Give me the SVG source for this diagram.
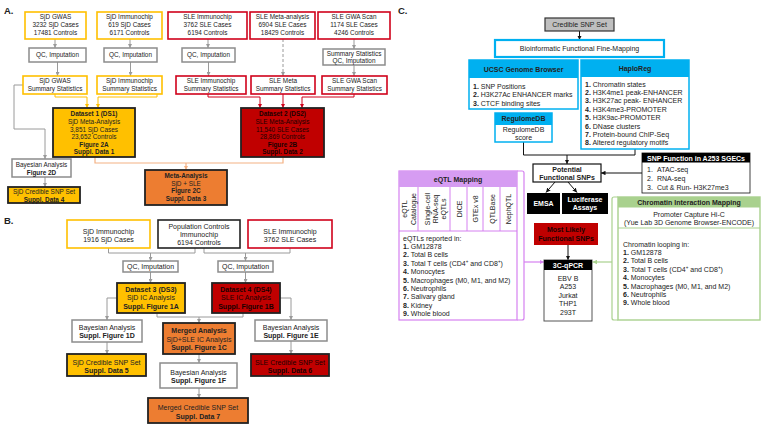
<svg xmlns="http://www.w3.org/2000/svg" width="763" height="425" viewBox="0 0 763 425">
<style>
text{font-family:"Liberation Sans",Arial,sans-serif;fill:#222;text-anchor:middle}
.a{font-size:6.4px}
.b{font-size:7px}
.c{font-size:7px}
.l{text-anchor:start}
.bd{font-weight:bold}
.w{fill:#fff}
.dk{fill:#1a0000}
.lbl{font-size:9.5px;font-weight:bold;text-anchor:start}
.sjd{fill:#fff;stroke:#FFC000;stroke-width:1.6}
.sle{fill:#fff;stroke:#D0021B;stroke-width:1.6}
.blk{fill:#fff;stroke:#222;stroke-width:1.6}
.qc{fill:#fff;stroke:#8C8C8C;stroke-width:1.5}
.y{fill:#FFC000;stroke:#222;stroke-width:1.8}
.r{fill:#C00000;stroke:#222;stroke-width:1.8}
.o{fill:#ED7D31;stroke:#222;stroke-width:1.8}
.gl{fill:none;stroke:#9A9A9A;stroke-width:1}
.yl{fill:none;stroke:#FFC000;stroke-width:1}
.rl{fill:none;stroke:#D0021B;stroke-width:1}
.ol{fill:none;stroke:#F4B183;stroke-width:1.2}
.kl{fill:none;stroke:#111;stroke-width:1}
.pl{fill:none;stroke:#D580F0;stroke-width:1.2}
.nl{fill:none;stroke:#A9D18E;stroke-width:1.2}
.blue{fill:#fff;stroke:#00B0F0;stroke-width:1.5}
</style>
<defs>
<marker id="mg" viewBox="0 0 6 6" refX="6" refY="3" markerWidth="4" markerHeight="4" markerUnits="userSpaceOnUse" orient="auto"><path d="M0,0L6,3L0,6z" fill="#9A9A9A"/></marker>
<marker id="my" viewBox="0 0 6 6" refX="6" refY="3" markerWidth="4" markerHeight="4" markerUnits="userSpaceOnUse" orient="auto"><path d="M0,0L6,3L0,6z" fill="#FFC000"/></marker>
<marker id="mr" viewBox="0 0 6 6" refX="6" refY="3" markerWidth="4" markerHeight="4" markerUnits="userSpaceOnUse" orient="auto"><path d="M0,0L6,3L0,6z" fill="#D0021B"/></marker>
<marker id="mo" viewBox="0 0 6 6" refX="6" refY="3" markerWidth="4.5" markerHeight="4.5" markerUnits="userSpaceOnUse" orient="auto"><path d="M0,0L6,3L0,6z" fill="#F4B183"/></marker>
<marker id="mk" viewBox="0 0 6 6" refX="6" refY="3" markerWidth="4.5" markerHeight="4.5" markerUnits="userSpaceOnUse" orient="auto"><path d="M0,0L6,3L0,6z" fill="#111"/></marker>
<marker id="mp" viewBox="0 0 6 6" refX="6" refY="3" markerWidth="4.5" markerHeight="4.5" markerUnits="userSpaceOnUse" orient="auto"><path d="M0,0L6,3L0,6z" fill="#D580F0"/></marker>
<marker id="mn" viewBox="0 0 6 6" refX="6" refY="3" markerWidth="4.5" markerHeight="4.5" markerUnits="userSpaceOnUse" orient="auto"><path d="M0,0L6,3L0,6z" fill="#A9D18E"/></marker>
</defs>
<rect width="763" height="425" fill="#fff"/>

<text class="lbl" x="4" y="14">A.</text>
<text class="lbl" x="4" y="224">B.</text>
<text class="lbl" x="398" y="14">C.</text>

<g id="connectors">
<path class="gl" d="M55 39V48" marker-end="url(#mg)"/>
<path class="gl" d="M130 39V48" marker-end="url(#mg)"/>
<path class="gl" d="M208 39V48" marker-end="url(#mg)"/>
<path class="gl" d="M354 39V49" marker-end="url(#mg)"/>
<path class="gl" d="M57.5 62V76" marker-end="url(#mg)"/>
<path class="gl" d="M130.5 62V76" marker-end="url(#mg)"/>
<path class="gl" d="M208.5 62V76" marker-end="url(#mg)"/>
<path class="gl" d="M354 65V76" marker-end="url(#mg)"/>
<path class="gl" d="M283 39V76" stroke-dasharray="3,2" marker-end="url(#mg)"/>
<path class="yl" d="M55 94V97H87V108" marker-end="url(#my)"/>
<path class="yl" d="M157 94V97H98V108" marker-end="url(#my)"/>
<path class="rl" d="M208 94V97H260V108" marker-end="url(#mr)"/>
<path class="rl" d="M283 94V108" marker-end="url(#mr)"/>
<path class="rl" d="M354 94V97H302V108" marker-end="url(#mr)"/>
<path class="gl" d="M23 85H14V129H45V159" marker-end="url(#mg)"/>
<path class="gl" d="M45 177V187" marker-end="url(#mg)"/>
<path class="ol" d="M95 157V163H283V157"/>
<path class="ol" d="M186 163V170" marker-end="url(#mo)"/>
<path class="gl" d="M108.5 248V253H195V248"/>
<path class="gl" d="M150.5 253V261" marker-end="url(#mg)"/>
<path class="gl" d="M204 248V253H290V248"/>
<path class="gl" d="M245.5 253V261" marker-end="url(#mg)"/>
<path class="gl" d="M150.5 272V283" marker-end="url(#mg)"/>
<path class="gl" d="M245.5 272V283" marker-end="url(#mg)"/>
<path class="gl" d="M117 298H107V320" marker-end="url(#mg)"/>
<path class="gl" d="M280 298H291V320" marker-end="url(#mg)"/>
<path class="gl" d="M157 313V317H243V313"/>
<path class="gl" d="M199 317V323" marker-end="url(#mg)"/>
<path class="gl" d="M107 342V354" marker-end="url(#mg)"/>
<path class="gl" d="M291 341V354" marker-end="url(#mg)"/>
<path class="gl" d="M199 354V363" marker-end="url(#mg)"/>
<path class="gl" d="M199 388V398" marker-end="url(#mg)"/>
<path class="kl" d="M579.5 31V40" marker-end="url(#mk)"/>
<path class="kl" d="M523.5 142V155H635V149"/>
<path class="kl" d="M567 155V164" marker-end="url(#mk)"/>
<path class="kl" d="M642 173H601" marker-end="url(#mk)"/>
<path class="kl" d="M555 182L546 192.5" marker-end="url(#mk)"/>
<path class="kl" d="M568 182L577 192.5" marker-end="url(#mk)"/>
<path class="kl" d="M568 245V260" marker-end="url(#mk)"/>
<path class="pl" d="M517 171H522Q524 171 524 173V318Q524 320 522 320H517"/>
<path class="pl" d="M524 262H544" marker-end="url(#mp)"/>
<path class="nl" d="M618 197H614Q612 197 612 199V318Q612 320 614 320H618"/>
<path class="nl" d="M612 262H592.5" marker-end="url(#mn)"/>
</g>

<g id="a-sjd-gwas"><rect class="sjd" x="25" y="12" width="61" height="27"/><text class="a" x="55.5" y="19.3">SjD GWAS</text><text class="a" x="55.5" y="27.3">3232 SjD Cases</text><text class="a" x="55.5" y="35.3">17481 Controls</text></g>
<g id="a-sjd-ic"><rect class="sjd" x="97" y="12" width="65" height="27"/><text class="a" x="129.5" y="19.3">SjD Immunochip</text><text class="a" x="129.5" y="27.3">619 SjD Cases</text><text class="a" x="129.5" y="35.3">6171 Controls</text></g>
<g id="a-sle-ic"><rect class="sle" x="168" y="12" width="79" height="27"/><text class="a" x="207.5" y="19.3">SLE Immunochip</text><text class="a" x="207.5" y="27.3">3762 SLE Cases</text><text class="a" x="207.5" y="35.3">6194 Controls</text></g>
<g id="a-sle-meta"><rect class="sle" x="250" y="12" width="65" height="27"/><text class="a" x="282.5" y="19.3">SLE Meta-analysis</text><text class="a" x="282.5" y="27.3">6904 SLE Cases</text><text class="a" x="282.5" y="35.3">18429 Controls</text></g>
<g id="a-sle-gwa"><rect class="sle" x="318" y="12" width="72" height="27"/><text class="a" x="354" y="19.3">SLE GWA Scan</text><text class="a" x="354" y="27.3">1174 SLE Cases</text><text class="a" x="354" y="35.3">4246 Controls</text></g>

<g id="a-qc1"><rect class="qc" x="29" y="48" width="57" height="14"/><text class="a" x="57.5" y="57.3">QC, Imputation</text></g>
<g id="a-qc2"><rect class="qc" x="104" y="48" width="53" height="14"/><text class="a" x="130.5" y="57.3">QC, Imputation</text></g>
<g id="a-qc3"><rect class="qc" x="182" y="48" width="53" height="14"/><text class="a" x="208.5" y="57.3">QC, Imputation</text></g>
<g id="a-qc4"><rect class="qc" x="323" y="49" width="62" height="16"/><text class="a" x="354" y="55.7">Summary Statistics</text><text class="a" x="354" y="62.7">QC, Imputation</text></g>

<g id="a-sum1"><rect class="sjd" x="23" y="76" width="64" height="18"/><text class="a" x="55" y="83.2">SjD GWAS</text><text class="a" x="55" y="91.2">Summary Statistics</text></g>
<g id="a-sum2"><rect class="sjd" x="97" y="76" width="65" height="18"/><text class="a" x="129.5" y="83.2">SjD Immunochip</text><text class="a" x="129.5" y="91.2">Summary Statistics</text></g>
<g id="a-sum3"><rect class="sle" x="176" y="76" width="70" height="18"/><text class="a" x="211" y="83.2">SLE Immunochip</text><text class="a" x="211" y="91.2">Summary Statistics</text></g>
<g id="a-sum4"><rect class="sle" x="251" y="76" width="64" height="18"/><text class="a" x="283" y="83.2">SLE Meta</text><text class="a" x="283" y="91.2">Summary Statistics</text></g>
<g id="a-sum5"><rect class="sle" x="322" y="76" width="65" height="18"/><text class="a" x="354.5" y="83.2">SLE GWA Scan</text><text class="a" x="354.5" y="91.2">Summary Statistics</text></g>

<g id="a-ds1"><rect class="y" x="53" y="108" width="82" height="49"/><text class="a bd" x="94" y="116.3">Dataset 1 (DS1)</text><text class="a" x="94" y="124.2">SjD Meta-Analysis</text><text class="a" x="94" y="131.5">3,851 SjD Cases</text><text class="a" x="94" y="139.2">23,652 Controls</text><text class="a bd" x="94" y="146.5">Figure 2A</text><text class="a bd" x="94" y="154.2">Suppl. Data 1</text></g>
<g id="a-ds2"><rect class="r" x="241" y="108" width="83" height="49"/><text class="a bd dk" x="282.5" y="116.3">Dataset 2 (DS2)</text><text class="a dk" x="282.5" y="124.2">SLE Meta-Analysis</text><text class="a dk" x="282.5" y="131.5">11,540 SLE Cases</text><text class="a dk" x="282.5" y="139.2">28,869 Controls</text><text class="a bd dk" x="282.5" y="146.5">Figure 2B</text><text class="a bd dk" x="282.5" y="154.2">Suppl. Data 2</text></g>
<g id="a-bayes"><rect class="qc" x="12" y="159" width="59" height="18"/><text class="a" x="41.5" y="167.2">Bayesian Analysis</text><text class="a bd" x="41.5" y="174.5">Figure 2D</text></g>
<g id="a-cred"><rect class="y" x="8" y="187" width="72" height="16"/><text class="a" x="44" y="194.3">SjD Credible SNP Set</text><text class="a bd" x="44" y="201.5">Suppl. Data 4</text></g>
<g id="a-meta"><rect class="o" x="145" y="170" width="82" height="35"/><text class="a bd" x="186" y="178.3">Meta-Analysis</text><text class="a" x="186" y="185.5">SjD + SLE</text><text class="a bd" x="186" y="193">Figure 2C</text><text class="a bd" x="186" y="201">Suppl. Data 3</text></g>

<g id="b-sjd"><rect class="sjd" x="67" y="220" width="83" height="28"/><text class="b" x="108.5" y="233.5">SjD Immunochip</text><text class="b" x="108.5" y="241.5">1916 SjD Cases</text></g>
<g id="b-pop"><rect class="blk" x="158" y="220" width="82" height="28"/><text class="b" x="199" y="228.5">Population Controls</text><text class="b" x="199" y="236.7">Immunochip</text><text class="b" x="199" y="245">6194 Controls</text></g>
<g id="b-sle"><rect class="sle" x="248" y="220" width="84" height="28"/><text class="b" x="290" y="233.5">SLE Immunochip</text><text class="b" x="290" y="241.5">3762 SLE Cases</text></g>
<g id="b-qc1"><rect class="qc" x="123" y="261" width="55" height="11"/><text class="b" x="150.5" y="269">QC, Imputation</text></g>
<g id="b-qc2"><rect class="qc" x="218" y="261" width="55" height="11"/><text class="b" x="245.5" y="269">QC, Imputation</text></g>
<g id="b-ds3"><rect class="y" x="117" y="283" width="68" height="30"/><text class="b bd" x="151" y="291.5">Dataset 3 (DS3)</text><text class="b" x="151" y="300">SjD IC Analysis</text><text class="b bd" x="151" y="308.5">Suppl. Figure 1A</text></g>
<g id="b-ds4"><rect class="r" x="212" y="283" width="68" height="30"/><text class="b bd dk" x="246" y="291.5">Dataset 4 (DS4)</text><text class="b dk" x="246" y="300">SLE IC Analysis</text><text class="b bd dk" x="246" y="308.5">Suppl. Figure 1B</text></g>
<g id="b-bayes1"><rect class="qc" x="72" y="320" width="70" height="22"/><text class="b" x="107" y="329.5">Bayesian Analysis</text><text class="b bd" x="107" y="337.5">Suppl. Figure 1D</text></g>
<g id="b-merged"><rect class="o" x="163" y="323" width="72" height="31"/><text class="b bd" x="199" y="333.3">Merged Analysis</text><text class="b" x="199" y="341.5">SjD+SLE IC Analysis</text><text class="b bd" x="199" y="350">Suppl. Figure 1C</text></g>
<g id="b-bayes2"><rect class="qc" x="255" y="320" width="72" height="21"/><text class="b" x="291" y="329.5">Bayesian Analysis</text><text class="b bd" x="291" y="337.5">Suppl. Figure 1E</text></g>
<g id="b-cred1"><rect class="y" x="67" y="354" width="79" height="22"/><text class="b" x="106.5" y="364.5">SjD Credible SNP Set</text><text class="b bd" x="106.5" y="372.5">Suppl. Data 5</text></g>
<g id="b-cred2"><rect class="r" x="251" y="354" width="78" height="22"/><text class="b dk" x="290" y="364.5">SLE Credible SNP Set</text><text class="b bd dk" x="290" y="372.5">Suppl. Data 6</text></g>
<g id="b-bayes3"><rect class="qc" x="160" y="363" width="77" height="25"/><text class="b" x="198.5" y="374.5">Bayesian Analysis</text><text class="b bd" x="198.5" y="383">Suppl. Figure 1F</text></g>
<g id="b-cred3"><rect class="o" x="148" y="398" width="100" height="25"/><text class="b" x="198" y="409.5">Merged Credible SNP Set</text><text class="b bd" x="198" y="418.5">Suppl. Data 7</text></g>

<g id="c-cred"><rect x="545" y="18" width="69" height="13" fill="#BFBFBF" stroke="#333" stroke-width="1.2"/><text class="c" x="579.5" y="27">Credible SNP Set</text></g>
<g id="c-bio"><rect x="495" y="40" width="169" height="17" fill="#fff" stroke="#00B0F0" stroke-width="2.2"/><text class="c" x="579.5" y="51.3">Bioinformatic Functional Fine-Mapping</text></g>
<g id="c-ucsc"><rect class="blue" x="469" y="60" width="109" height="49"/><rect x="469" y="60" width="109" height="18" fill="#00B0F0"/><text class="c bd" x="523.5" y="71.5">UCSC Genome Browser</text>
<text class="c l" x="473" y="88.5"><tspan class="bd">1.</tspan> SNP Positions</text><text class="c l" x="473" y="97"><tspan class="bd">2.</tspan> H3K27Ac ENHANCER marks</text><text class="c l" x="473" y="105.5"><tspan class="bd">3.</tspan> CTCF binding sites</text></g>
<g id="c-haplo"><rect class="blue" x="581" y="60" width="108" height="89"/><rect x="581" y="60" width="108" height="17" fill="#00B0F0"/><text class="c bd" x="635" y="71">HaploReg</text>
<text class="c l" x="585" y="86.5"><tspan class="bd">1.</tspan> Chromatin states</text><text class="c l" x="585" y="94.9"><tspan class="bd">2.</tspan> H3K4me1 peak-ENHANCER</text><text class="c l" x="585" y="103.3"><tspan class="bd">3.</tspan> H3K27ac peak- ENHANCER</text><text class="c l" x="585" y="111.7"><tspan class="bd">4.</tspan> H3K4me3-PROMOTER</text><text class="c l" x="585" y="120.1"><tspan class="bd">5.</tspan> H3K9ac-PROMOTER</text><text class="c l" x="585" y="128.5"><tspan class="bd">6.</tspan> DNase clusters</text><text class="c l" x="585" y="136.9"><tspan class="bd">7.</tspan> Protein-bound ChIP-Seq</text><text class="c l" x="585" y="145.3"><tspan class="bd">8.</tspan> Altered regulatory motifs</text></g>
<g id="c-regulome"><rect class="blue" x="495" y="113" width="57" height="29"/><rect x="495" y="113" width="57" height="12" fill="#00B0F0"/><text class="c bd" x="523.5" y="121.3">RegulomeDB</text><text class="c" x="523.5" y="132.3">RegulomeDB</text><text class="c" x="523.5" y="140.3">score</text></g>
<g id="c-potential"><rect x="533" y="164" width="68" height="18" fill="#fff" stroke="#111" stroke-width="1.2"/><text class="c bd" x="567" y="171.5">Potential</text><text class="c bd" x="567" y="180">Functional SNPs</text></g>
<g id="c-snpfn"><rect x="642" y="153" width="108" height="40" fill="#fff" stroke="#111" stroke-width="0.8"/><rect x="642" y="153" width="108" height="9.5" fill="#000"/><text class="c bd w" x="696" y="160.5">SNP Function in A253 SGECs</text>
<text class="c l" x="647" y="171.5">1.</text><text class="c l" x="657" y="171.5">ATAC-seq</text><text class="c l" x="647" y="180.5">2.</text><text class="c l" x="657" y="180.5">RNA-seq</text><text class="c l" x="647" y="189.5">3.</text><text class="c l" x="657" y="189.5">Cut &amp; Run- H3K27me3</text></g>
<g id="c-emsa"><rect x="527" y="193" width="33" height="21" fill="#000"/><text class="c bd w" x="543.5" y="206">EMSA</text></g>
<g id="c-luc"><rect x="562" y="193" width="46" height="21" fill="#000"/><text class="c bd w" x="585" y="201.5">Luciferase</text><text class="c bd w" x="585" y="210">Assays</text></g>
<g id="c-most"><rect x="534" y="223" width="64" height="22" fill="#C00000"/><text class="c bd dk" x="566" y="232">Most Likely</text><text class="c bd dk" x="566" y="241">Functional SNPs</text></g>
<g id="c-3c"><rect x="544" y="260" width="48" height="61" fill="#fff" stroke="#555" stroke-width="1"/><rect x="544" y="260" width="48" height="10" fill="#000"/><text class="c bd w" x="568" y="267.8">3C-qPCR</text>
<text class="c" x="568" y="280.5">EBV B</text><text class="c" x="568" y="289">A253</text><text class="c" x="568" y="297.5">Jurkat</text><text class="c" x="568" y="306">THP1</text><text class="c" x="568" y="314.5">293T</text></g>
<g id="c-eqtl"><rect x="399" y="171" width="118" height="149" fill="#fff" stroke="#D580F0" stroke-width="1.2"/><rect x="399" y="171" width="118" height="16" fill="#D69CF2"/><text class="c bd" x="458" y="181.5">eQTL Mapping</text>
<path d="M399 231H517M418 187V231M450 187V231M467 187V231M483 187V231M500 187V231" stroke="#D580F0" stroke-width="1" fill="none"/>
<text class="c" transform="translate(406.5,209) rotate(-90)">eQTL</text><text class="c" transform="translate(415.5,209) rotate(-90)">Catalogue</text>
<text class="c" transform="translate(429.5,209) rotate(-90)">Single-cell</text><text class="c" transform="translate(437.5,209) rotate(-90)">RNA-seq</text><text class="c" transform="translate(445.5,209) rotate(-90)">eQTLs</text>
<text class="c" transform="translate(461.5,209) rotate(-90)">DICE</text><text class="c" transform="translate(477.5,209) rotate(-90)">GTEx v8</text><text class="c" transform="translate(494.5,209) rotate(-90)">QTLBase</text><text class="c" transform="translate(510.5,209) rotate(-90)">NephQTL</text>
<text class="c l" x="403" y="240.5">eQTLs reported in:</text>
<text class="c l" x="403" y="248.9"><tspan class="bd">1.</tspan> GM12878</text>
<text class="c l" x="403" y="257.3"><tspan class="bd">2.</tspan> Total B cells</text>
<text class="c l" x="403" y="265.7"><tspan class="bd">3.</tspan> Total T cells (CD4<tspan font-size="4.5" dy="-2.5">+</tspan><tspan dy="2.5"> and CD8</tspan><tspan font-size="4.5" dy="-2.5">+</tspan><tspan dy="2.5">)</tspan></text>
<text class="c l" x="403" y="274.1"><tspan class="bd">4.</tspan> Monocytes</text>
<text class="c l" x="403" y="282.5"><tspan class="bd">5.</tspan> Macrophages (M0, M1, and M2)</text>
<text class="c l" x="403" y="290.9"><tspan class="bd">6.</tspan> Neutrophils</text>
<text class="c l" x="403" y="299.3"><tspan class="bd">7.</tspan> Salivary gland</text>
<text class="c l" x="403" y="307.7"><tspan class="bd">8.</tspan> Kidney</text>
<text class="c l" x="403" y="316.1"><tspan class="bd">9.</tspan> Whole blood</text></g>
<g id="c-chrom"><rect x="618" y="197" width="142" height="123" fill="#fff" stroke="#A9D18E" stroke-width="1.4"/><rect x="618" y="197" width="142" height="10.5" fill="#A9D18E"/><text class="c bd" x="689" y="204.8">Chromatin Interaction Mapping</text>
<text class="c" x="689" y="216.5">Promoter Capture Hi-C</text><text class="c" x="689" y="224.5">(Yue Lab 3D Genome Browser-ENCODE)</text>
<path d="M618 228H760" stroke="#A9D18E" stroke-width="1"/>
<text class="c l" x="623" y="246.5">Chromatin looping in:</text>
<text class="c l" x="623" y="254.9"><tspan class="bd">1.</tspan> GM12878</text>
<text class="c l" x="623" y="263.3"><tspan class="bd">2.</tspan> Total B cells</text>
<text class="c l" x="623" y="271.7"><tspan class="bd">3.</tspan> Total T cells (CD4<tspan font-size="4.5" dy="-2.5">+</tspan><tspan dy="2.5"> and CD8</tspan><tspan font-size="4.5" dy="-2.5">+</tspan><tspan dy="2.5">)</tspan></text>
<text class="c l" x="623" y="280.1"><tspan class="bd">4.</tspan> Monocytes</text>
<text class="c l" x="623" y="288.5"><tspan class="bd">5.</tspan> Macrophages (M0, M1, and M2)</text>
<text class="c l" x="623" y="296.9"><tspan class="bd">6.</tspan> Neutrophils</text>
<text class="c l" x="623" y="305.3"><tspan class="bd">9.</tspan> Whole blood</text></g>
</svg>
